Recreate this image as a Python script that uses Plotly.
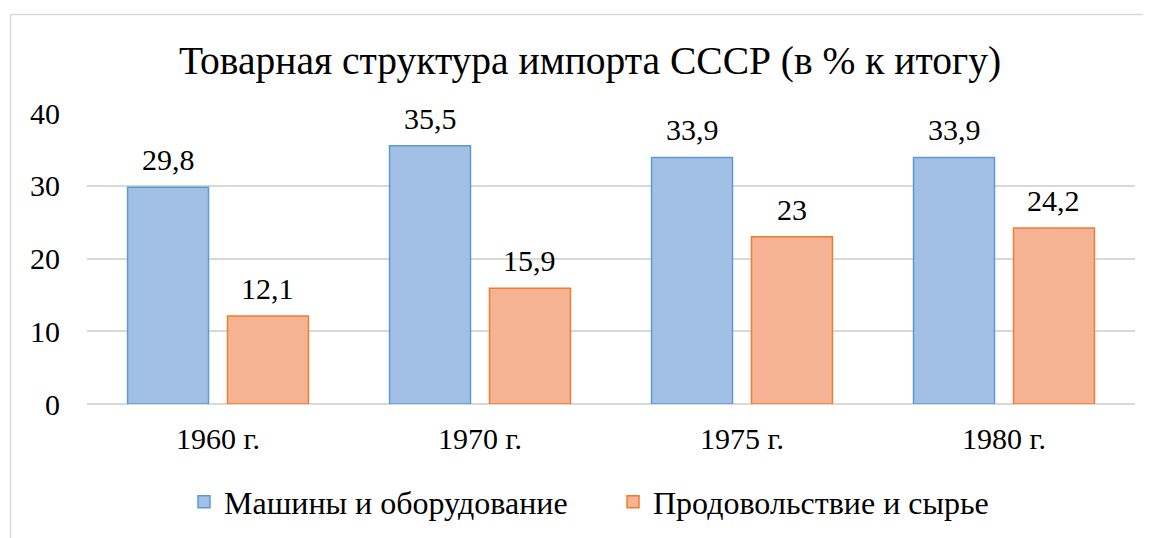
import plotly.graph_objects as go

categories = ["1960 г.", "1970 г.", "1975 г.", "1980 г."]
machines = [29.8, 35.5, 33.9, 33.9]
food_raw = [12.1, 15.9, 23.0, 24.2]
series_names = ["Машины и оборудование", "Продовольствие и сырье"]
y_ticks = [0, 10, 20, 30, 40]


def fmt(v):
    s = f"{v:g}"
    return s.replace(".", ",")


FONT = "Liberation Serif"
TXT = 30

W, H = 1151, 538
L, R, T, B = 79, 24, 105, 142
pw = W - L - R
ph = H - T - B

BARGAP = 0.237
GROUPGAP = 0.19

fig = go.Figure()
fig.add_trace(go.Bar(
    x=categories, y=machines, name=series_names[0],
    marker=dict(color="#a2c0e6", line=dict(color="#5b9bd5", width=1.5)),
))
fig.add_trace(go.Bar(
    x=categories, y=food_raw, name=series_names[1],
    marker=dict(color="#f5b394", line=dict(color="#ed7d31", width=1.5)),
))

# data labels above bars, shifted to each bar's slot in the group
slot_px = (pw / len(categories)) * (1 - BARGAP) / 2
for series, shift in ((machines, -slot_px / 2), (food_raw, slot_px / 2)):
    for c, v in zip(categories, series):
        fig.add_annotation(x=c, y=v, text=fmt(v), showarrow=False,
                           xshift=shift, yshift=9, yanchor="bottom",
                           font=dict(size=TXT, family=FONT, color="#000000"))


def px_to_paper_x(px):
    return (px - L) / pw


def px_to_paper_y(py):
    return (H - B - py) / ph


border = dict(color="#d9d9d9", width=1.5)
fig.add_shape(type="line", xref="paper", yref="paper",
              x0=px_to_paper_x(2.5), x1=px_to_paper_x(W),
              y0=px_to_paper_y(6.5), y1=px_to_paper_y(6.5), line=border)
fig.add_shape(type="line", xref="paper", yref="paper",
              x0=px_to_paper_x(2.5), x1=px_to_paper_x(2.5),
              y0=px_to_paper_y(6.5), y1=px_to_paper_y(H), line=border)

fig.update_layout(
    width=W, height=H,
    margin=dict(l=L, r=R, t=T, b=B),
    paper_bgcolor="white", plot_bgcolor="white",
    barmode="group", bargap=BARGAP, bargroupgap=GROUPGAP,
    font=dict(family=FONT, size=TXT, color="#000000"),
    title=dict(text="Товарная структура импорта СССР (в % к итогу)",
               x=582 / W, xanchor="center", y=1 - 52 / H, yanchor="middle",
               yref="container",
               font=dict(size=39.5, family=FONT, color="#000000")),
    showlegend=True,
    legend=dict(orientation="h", x=px_to_paper_x(176), xanchor="left",
                y=px_to_paper_y(494), yanchor="middle",
                font=dict(size=32, family=FONT, color="#000000"),
                itemwidth=30, traceorder="normal", entrywidth=384,
                entrywidthmode="pixels"),
    xaxis=dict(showgrid=False, showline=False, ticks="",
               tickfont=dict(size=TXT, family=FONT), ticklabelstandoff=14),
    yaxis=dict(range=[0, 40], tickvals=y_ticks, showgrid=True,
               gridcolor="#d9d9d9", gridwidth=1.5, zeroline=True,
               zerolinecolor="#d9d9d9", zerolinewidth=1.5,
               showline=False, ticks="",
               tickfont=dict(size=TXT, family=FONT), ticklabelstandoff=26),
)

fig.write_html("out.html")
